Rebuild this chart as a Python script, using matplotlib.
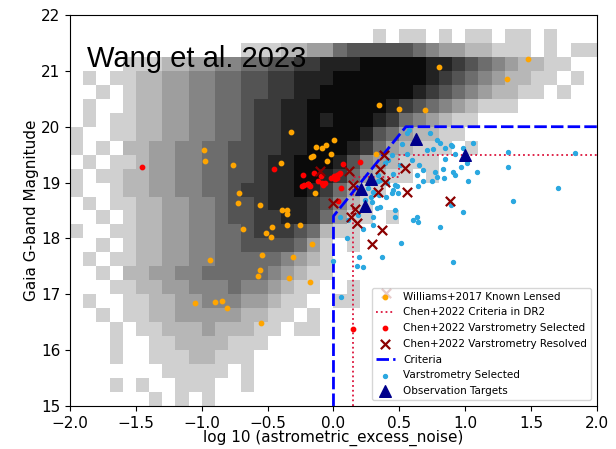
import numpy as np
import matplotlib
matplotlib.use("Agg")
import matplotlib.pyplot as plt
from matplotlib.colors import LinearSegmentedColormap

# gray background: source counts per cell, level 1 (few) .. 9 (many), '.' = empty
# cells are 0.1 wide in log10(noise) from -2.0 and 0.25 tall in G from 15.0
# top row first (G = 21.5-21.75), last row G = 15.0-15.25
density_rows = [
    "...................." "...1.11.1.11.11.1...",
    ".............1112233" "566666543322111.1.11",
    "....1112233445566778" "889999988765432211..",
    ".1.11223344556677888" "99999998765432211.1.",
    "..1.1223344556677889" "9999998765432211.1..",
    ".1..1223344556778899" "99998765432111......",
    ".1.11223344556778898" "99987543211.........",
    "1..11223344556778899" "9986532211..........",
    "1.1.2233445566778899" "987532111.1.........",
    ".1.11233445566788999" "86432111............",
    "1.112233445566788998" "753211.1............",
    "1..12233445567788987" "5311................",
    ".1.11223344566788876" "421.................",
    "..1.1223344566778875" "311.1...............",
    "1..11223344556777652" "11..................",
    "..1.1223344556666531" ".1..................",
    ".1.11223344555554321" "....................",
    "..1.2233445555543211" "....................",
    "...1122334445443211." ".1..................",
    ".1..11223344433211.." "11..................",
    "..1.1122333332211.1." "....................",
    "...1.11222322211.11." "....................",
    "...1..112222111....." "....................",
    "...1..11122111......" "....................",
    ".......11111.1......" "....................",
    "...1.1..111..1......" "....................",
    "......1.1.1........." "....................",
]

# Williams+2017 known lensed quasars
will_x = [-0.98, -0.975, -0.76, -0.72, -0.725, -0.56, -0.39, -0.355, -0.35, -0.32,
          -0.40, -0.17, -0.155, -0.135, -0.087, -0.055, 0.005, -0.02, -0.05, -0.196,
          -0.14, 0.345, 0.50, 0.695, 0.32, 0.80, 1.48, 1.32, -0.69, -0.47,
          -0.51, -0.475, -0.35, -0.255, -0.16, -0.94, -0.54, -0.555, -0.57, -0.305,
          -0.335, -0.18, -1.05, -0.90, -0.845, -0.81, -0.55]
will_g = [19.58, 19.39, 19.31, 18.82, 18.64, 18.59, 18.51, 18.50, 18.43, 19.91,
          19.35, 19.45, 19.48, 19.63, 19.62, 19.67, 19.77, 19.52, 19.39, 18.97,
          18.81, 20.38, 20.31, 20.30, 19.51, 21.07, 21.22, 20.85, 18.16, 18.21,
          18.09, 18.03, 18.24, 18.24, 17.90, 17.62, 17.70, 17.43, 17.32, 17.67,
          17.30, 17.22, 16.85, 16.87, 16.88, 16.76, 16.49]

# Chen+2022 varstrometry selected
chen_sel_x = [-1.455, -0.455, -0.23, -0.24, -0.19, -0.175, -0.15, -0.12, -0.09, -0.065,
              -0.08, -0.095, -0.015, 0.005, 0.025, 0.04, 0.05, 0.01, 0.03, 0.06,
              0.075, 0.20, 0.035, 0.15, -0.22]
chen_sel_g = [19.27, 19.25, 19.13, 18.93, 18.98, 18.94, 19.17, 19.02, 19.00, 18.99,
              18.96, 19.12, 19.08, 19.11, 19.14, 19.16, 19.18, 19.06, 19.09, 18.91,
              19.34, 19.36, 18.67, 16.38, 18.95]

# Chen+2022 varstrometry resolved
chen_res_x = [-0.10, 0.115, 0.35, 0.38, 0.545, 0.145, 0.39, 0.335, 0.56, 0.885,
              -0.005, 0.165, 0.13, 0.175, 0.37, 0.29, 0.40]
chen_res_g = [19.21, 19.20, 19.24, 19.49, 19.26, 18.96, 19.01, 18.84, 18.84, 18.67,
              18.64, 18.52, 18.38, 18.27, 18.15, 17.90, 17.03]

# selection criteria
chen_crit_x = [0.15, 0.15, 0.50, 0.50, 2.0]
chen_crit_g = [15.0, 19.1, 19.1, 19.5, 19.5]
crit_x = [0.0, 0.0, 0.55, 2.0]
crit_g = [15.0, 18.4, 20.0, 20.0]

# varstrometry selected (this work)
var_x = [0.573, 0.556, 0.518, 0.707, 0.757, 0.808, 0.897, 0.985, 1.057, 0.922,
         0.846, 0.442, 0.416, 0.505, 0.594, 0.651, 0.682, 0.77, 0.839, 0.909,
         0.965, 1.016, 1.091, 1.023, 0.632, 0.682, 0.745, 0.391, 0.449, 0.34,
         0.34, 0.467, 0.492, 0.398, 0.282, 0.328, 0.29, 0.467, 0.467, 0.636,
         0.644, 0.298, 0.298, 0.188, 0.112, 0.049, 0.808, 0.449, 0.264, 1.327,
         1.833, 1.327, 1.702, 1.36, 0.985, 0.892, 0.226, 0.10, 0.51, 0.194,
         0.371, 0.176, 0.226, 0.909, 0.0, 0.055, 0.556, 0.732, 0.783, 0.846,
         0.889, 0.783, 0.833, 0.922, 0.302, 0.345, 0.24, 0.353, 0.606, 0.644,
         0.48, 0.404, 0.353, 0.442]
var_g = [19.94, 19.89, 19.69, 19.58, 19.60, 19.70, 19.65, 19.62, 19.71, 19.52,
         19.42, 19.49, 19.40, 19.31, 19.40, 19.31, 19.23, 19.19, 19.08, 19.19,
         19.28, 19.35, 19.19, 19.02, 19.14, 19.02, 19.02, 19.35, 19.15, 19.14,
         19.02, 18.96, 18.81, 18.74, 18.75, 18.54, 18.66, 18.51, 18.39, 18.39,
         18.30, 18.39, 18.24, 18.42, 18.33, 18.39, 18.21, 18.87, 18.91, 19.54,
         19.53, 19.28, 18.91, 18.67, 18.47, 18.60, 18.17, 18.01, 17.91, 17.67,
         17.66, 17.51, 17.48, 17.58, 17.60, 16.95, 19.52, 19.88, 19.76, 19.61,
         19.67, 19.10, 19.24, 19.14, 18.84, 18.78, 18.69, 18.57, 18.33, 18.93,
         18.93, 18.99, 19.05, 18.81]

# observation targets
obs_x = [0.63, 1.0, 0.285, 0.21, 0.24]
obs_g = [19.78, 19.5, 19.06, 18.88, 18.58]

x_edges = np.linspace(-2.0, 2.0, 41)
y_edges = np.linspace(15.0, 21.75, 28)
dens = np.array([[np.nan if ch == "." else float(ch) for ch in row]
                 for row in density_rows])[::-1]

fig = plt.figure(figsize=(6.16, 4.49), dpi=100)
ax = fig.add_axes([0.1136, 0.0958, 0.8555, 0.8708])

# level 1 -> light gray, level 9 -> near black
cmap = LinearSegmentedColormap.from_list("hist", ["#d0d0d0", "#0a0a0a"])
cmap.set_bad((1, 1, 1, 0))
ax.pcolormesh(x_edges, y_edges, np.ma.masked_invalid(dens), cmap=cmap,
              vmin=1, vmax=9, zorder=0)

ax.scatter(will_x, will_g, s=10, color="orange", zorder=3,
           label="Williams+2017 Known Lensed")
ax.plot(chen_crit_x, chen_crit_g, color="crimson", ls=":", lw=1.3, zorder=2,
        label="Chen+2022 Criteria in DR2")
ax.scatter(chen_sel_x, chen_sel_g, s=10, color="red", zorder=3,
           label="Chen+2022 Varstrometry Selected")
ax.scatter(chen_res_x, chen_res_g, s=45, marker="x", color="darkred", lw=1.6,
           zorder=4, label="Chen+2022 Varstrometry Resolved")
ax.plot(crit_x, crit_g, color="blue", ls=(0, (4.5, 1.5)), lw=2, zorder=2,
        label="Criteria")
ax.scatter(var_x, var_g, s=8, color="#2ba8e0", zorder=3,
           label="Varstrometry Selected")
ax.scatter(obs_x, obs_g, s=70, marker="^", color="darkblue", zorder=5,
           label="Observation Targets")

ax.set_xlim(-2, 2)
ax.set_ylim(15, 22)
ax.set_xticks(np.arange(-2.0, 2.01, 0.5))
ax.tick_params(labelsize=11)
ax.set_xlabel("log 10 (astrometric_excess_noise)", fontsize=11)
ax.set_ylabel("Gaia G-band Magnitude", fontsize=11)
ax.xaxis.set_label_coords(0.5, -0.062)
ax.yaxis.set_label_coords(-0.058, 0.5)

ax.text(-1.87, 21.07, "Wang et al. 2023", fontsize=21, family="Liberation Sans",
        va="baseline", zorder=6)

ax.legend(loc="lower right", fontsize=7.5, labelspacing=0.55, handlelength=1.8,
          handletextpad=0.8, borderaxespad=0.55)

fig.savefig("out.png", dpi=100)
